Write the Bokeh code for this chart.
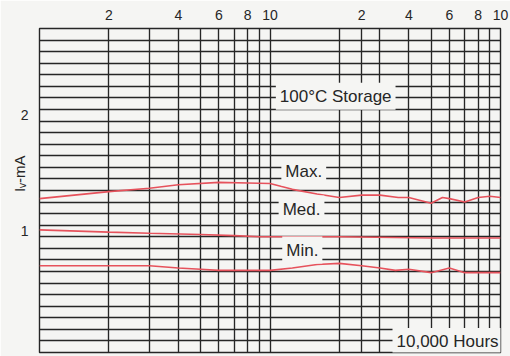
from bokeh.plotting import figure
from bokeh.models import Range1d, FixedTicker, Label, Grid
from bokeh.embed import file_html
from bokeh.resources import INLINE

# ---- data ----
max_hours = [100, 200, 300, 400, 600, 800, 1000, 1250, 1600, 2000, 2500, 3000, 3600, 4000, 5000, 5600, 6000, 7000, 8000, 9000, 10000]
max_ma = [1.33, 1.39, 1.42, 1.45, 1.47, 1.465, 1.46, 1.41, 1.37, 1.34, 1.36, 1.36, 1.34, 1.34, 1.29, 1.34, 1.33, 1.30, 1.34, 1.35, 1.34]

med_hours = [100, 200, 300, 500, 700, 900, 2000, 5000, 10000]
med_ma = [1.06, 1.04, 1.03, 1.02, 1.01, 1.00, 1.00, 0.99, 0.99]

min_hours = [100, 200, 300, 400, 500, 600, 1000, 1250, 1600, 2000, 2500, 3000, 3500, 4000, 5000, 6000, 7000, 10000]
min_ma = [0.75, 0.75, 0.75, 0.73, 0.72, 0.71, 0.71, 0.73, 0.76, 0.77, 0.75, 0.73, 0.71, 0.72, 0.69, 0.73, 0.69, 0.69]

x_tick_pos = [200, 400, 600, 800, 1000, 2500, 4000, 6000, 8000, 10000]
x_tick_labels = ["2", "4", "6", "8", "10", "2", "4", "6", "8", "10"]
x_grid_pos = [100, 200, 300, 400, 500, 600, 700, 800, 900, 1000,
              2000, 2500, 3000, 4000, 5000, 6000, 7000, 8000, 9000, 10000]
# labels are printed just above their grid lines in the reference
y_tick_pos = [1.05, 2.05]
y_tick_labels = ["1", "2"]
y_grid_pos = [round(0.1 * k, 1) for k in range(0, 29)]

BG = "#f5f5f3"
INK = "#262626"
RED = "#e6525c"
FONT = "Liberation Sans"

p = figure(width=510, height=356, x_axis_type="log", x_axis_location="above",
           x_range=Range1d(100, 10000), y_range=Range1d(0, 2.8),
           output_backend="svg", toolbar_location=None,
           min_border_left=39, min_border_right=10, min_border_top=28, min_border_bottom=4)
p.background_fill_color = BG
p.border_fill_color = BG
p.outline_line_color = INK
p.outline_line_width = 1.4

# axes
xa = p.xaxis[0]
xa.ticker = FixedTicker(ticks=x_tick_pos, minor_ticks=[])
xa.major_label_overrides = {t: l for t, l in zip(x_tick_pos, x_tick_labels)}
ya = p.yaxis[0]
ya.ticker = FixedTicker(ticks=y_tick_pos, minor_ticks=[])
ya.major_label_overrides = {t: l for t, l in zip(y_tick_pos, y_tick_labels)}
for ax in (xa, ya):
    ax.axis_line_color = None
    ax.major_tick_line_color = None
    ax.minor_tick_line_color = None
    ax.major_label_text_font = FONT
    ax.major_label_text_font_size = "14px"
    ax.major_label_text_color = INK
xa.major_label_standoff = 3
ya.major_label_standoff = 5

# y-axis title  I_V-mA
ya.axis_label = "\u00a0" * 8 + "I\u1d65-mA"
ya.axis_label_text_font = FONT
ya.axis_label_text_font_size = "15px"
ya.axis_label_text_font_style = "normal"
ya.axis_label_text_color = INK
ya.axis_label_standoff = -10

# grids
p.xgrid.visible = False
p.ygrid.visible = False
p.add_layout(Grid(dimension=0, ticker=FixedTicker(ticks=x_grid_pos),
                  grid_line_color=INK, grid_line_width=1.35))
p.add_layout(Grid(dimension=1, ticker=FixedTicker(ticks=y_grid_pos),
                  grid_line_color=INK, grid_line_width=1.35))

# curves
for hx, vy in ((max_hours, max_ma), (med_hours, med_ma), (min_hours, min_ma)):
    p.line(hx, vy, line_color=RED, line_width=1.6)

# annotations inside the plot
def tag(x, y, text):
    p.add_layout(Label(x=x, y=y, text=text, text_font=FONT, text_font_size="17px",
                       text_color=INK, text_align="left", text_baseline="middle",
                       background_fill_color=BG, padding=4))

tag(1060, 2.215, "100°C Storage")
tag(1120, 1.56, "Max.")
tag(1090, 1.24, "Med.")
tag(1130, 0.885, "Min.")
tag(3400, 0.095, "10,000 Hours")

open("out.html", "w").write(file_html(p, INLINE))
